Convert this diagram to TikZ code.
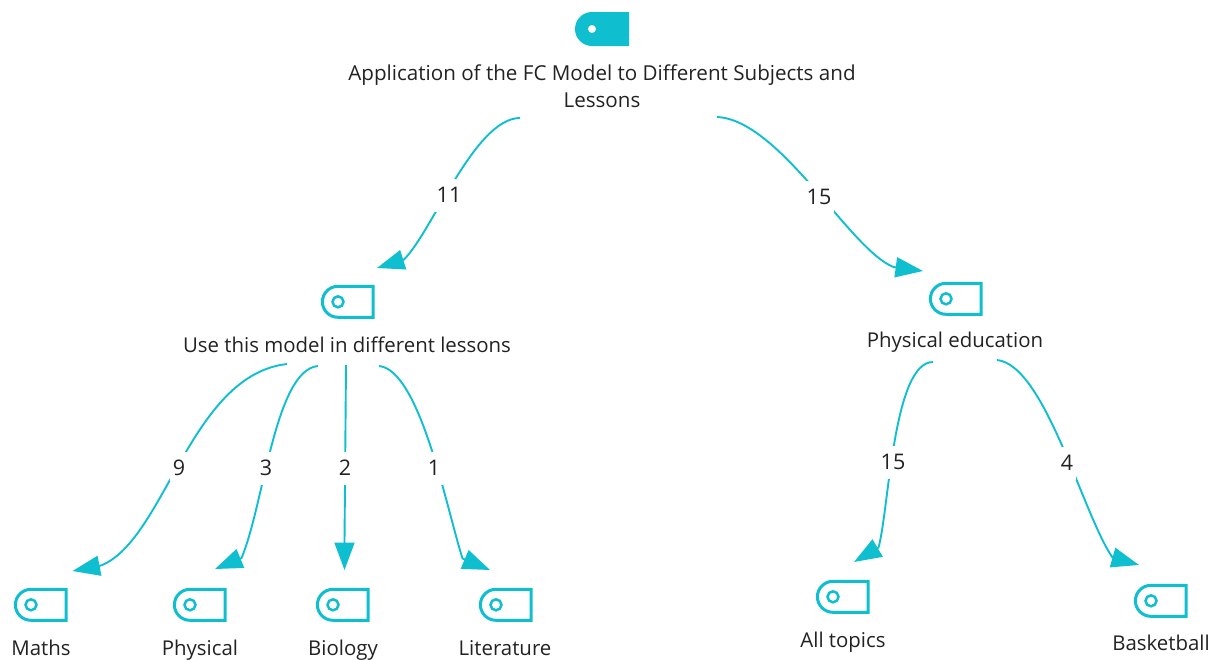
\documentclass[tikz,border=0pt]{standalone}
\usepackage{fontspec}
\setmainfont{Open Sans}
\usetikzlibrary{arrows.meta}
\definecolor{teal}{HTML}{0FBFCF}
\definecolor{ink}{HTML}{222222}
\tikzset{
 x=1pt,y=-1pt,
 conn/.style={draw=teal,line width=1.9pt,-{Triangle[length=27.5pt,width=20pt,fill=teal]}},
 lbl/.style={font=\fontsize{20.4}{27}\selectfont,text=ink,align=center,inner sep=0pt},
 elbl/.style={lbl,font=\fontsize{21.5}{27}\selectfont,fill=white,inner xsep=3pt,inner ysep=0pt,minimum height=33pt},
 iconout/.style={draw=teal,line width=3pt,fill=white,line join=miter},
 iconin/.style={draw=teal,line width=2.5pt,fill=white,circle,inner sep=0pt,minimum size=11pt},
}
\newcommand{\iconpath}[2]{%
 (#1+52,#2+1.3) -- (#1+52,#2+32.3) -- (#1+17,#2+32.3)
 .. controls (#1+8.4,#2+32.3) and (#1+1.4,#2+25.4) .. (#1+1.4,#2+16.8)
 .. controls (#1+1.4,#2+8.2) and (#1+8.4,#2+1.3) .. (#1+17,#2+1.3) -- cycle}
\newcommand{\iconat}[3]{%
 \draw[iconout] \iconpath{#1}{#2};
 \node[iconin] (#3) at (#1+17,#2+16.8) {};
}
\begin{document}
\begin{tikzpicture}
\useasboundingbox (0,0) rectangle (1209,659);
% root icon
\fill[teal] (629,12) -- (629,46) -- (592,46)
 .. controls (582.6,46) and (575,38.4) .. (575,29)
 .. controls (575,19.6) and (582.6,12) .. (592,12) -- cycle;
\node[circle,fill=white,inner sep=0pt,minimum size=8pt] (rooticon) at (592,29) {};
\iconat{321}{285}{useicon}
\iconat{929}{282}{peicon}
\iconat{14}{588}{mathsicon}
\iconat{173}{588}{physicon}
\iconat{316}{588}{bioicon}
\iconat{479}{588}{liticon}
\iconat{816}{580}{allicon}
\iconat{1134}{584}{baskicon}
% labels
\node[lbl,font=\fontsize{20.6}{27}\selectfont] (root) at (602,86) {Application of the FC Model to Different Subjects and\\Lessons};
\node[lbl] (use) at (347,345) {Use this model in different lessons};
\node[lbl] (pe) at (955,342.5) {Physical education};
\node[lbl] (maths) at (41,648) {Maths};
\node[lbl] (phys) at (200,650) {Physical};
\node[lbl] (bio) at (343,650) {Biology};
\node[lbl] (lit) at (505,648) {Literature};
\node[lbl] (all) at (843,642) {All topics};
\node[lbl] (bask) at (1161,643) {Basketball};
% anchors
\coordinate (r1) at (520,118);
\coordinate (r2) at (717,117);
\coordinate (u1) at (287,364);
\coordinate (u2) at (318,366);
\coordinate (u3) at (346,365);
\coordinate (u4) at (379,366);
\coordinate (p1) at (933,362);
\coordinate (p2) at (997,360);
\coordinate (tuse) at (377,268);
\coordinate (buse) at (404,259.5);
\coordinate (tpe) at (923,271);
\coordinate (bpe) at (893.5,267);
\coordinate (tmaths) at (72.5,571);
\coordinate (bmaths) at (101,565.5);
\coordinate (tphys) at (215,569);
\coordinate (bphys) at (241.5,558);
\coordinate (tbio) at (344.5,570);
\coordinate (bbio) at (344.5,542);
\coordinate (tlit) at (490,570);
\coordinate (blit) at (462.5,558.5);
\coordinate (tall) at (854,562);
\coordinate (ball) at (878.5,547.5);
\coordinate (tbask) at (1139,565);
\coordinate (bbask) at (1112.5,557.5);
% connectors
\draw[conn] (r1) .. controls (475,118) and (432,232) .. (buse) -- (tuse);
\draw[conn] (r2) .. controls (780,120) and (850,250) .. (bpe) -- (tpe);
\draw[conn] (u1) .. controls (190,375) and (165,540) .. (bmaths) -- (tmaths);
\draw[conn] (u2) .. controls (275,370) and (264,505) .. (bphys) -- (tphys);
\draw[conn] (u3) -- (bbio) -- (tbio);
\draw[conn] (u4) .. controls (420,370) and (447,510) .. (blit) -- (tlit);
\draw[conn] (p1) .. controls (893,362) and (889,510) .. (ball) -- (tall);
\draw[conn] (p2) .. controls (1045,365) and (1083,515) .. (bbask) -- (tbask);
% edge labels
\node[elbl] (e1) at (449,195) {11};
\node[elbl] (e2) at (819,197) {15};
\node[elbl] (e3) at (179,468) {9};
\node[elbl] (e4) at (266,468) {3};
\node[elbl] (e5) at (345,468) {2};
\node[elbl] (e6) at (434,468) {1};
\node[elbl] (e7) at (893,462) {15};
\node[elbl] (e8) at (1067,463) {4};
\end{tikzpicture}
\end{document}
